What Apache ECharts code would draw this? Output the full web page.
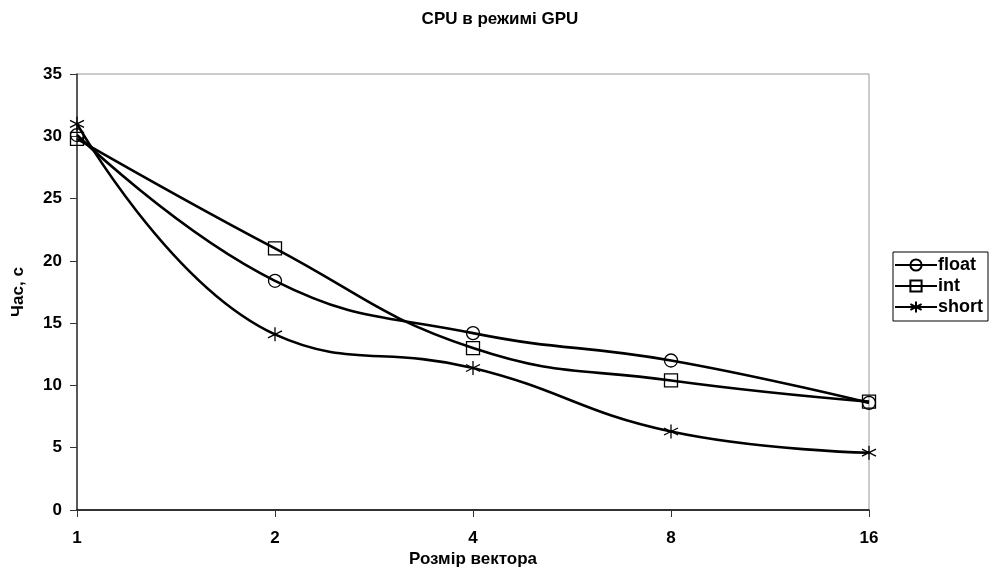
<!DOCTYPE html>
<html><head><meta charset="utf-8">
<script src="https://cdn.jsdelivr.net/npm/echarts@6/dist/echarts.min.js"></script>
<style>html,body{margin:0;padding:0;background:#fff}#c{width:990px;height:580px}</style>
</head><body><div id="c"></div>
<script>
const categories = ['1', '2', '4', '8', '16'];
const floatValues = [30.1, 18.4, 14.2, 12.0, 8.6];
const intValues = [29.8, 21.0, 13.0, 10.4, 8.7];
const shortValues = [31.0, 14.1, 11.4, 6.3, 4.6];
const yTicks = [0, 5, 10, 15, 20, 25, 30, 35];

const font = 'Liberation Sans, Arial, sans-serif';
const starPath = 'path://M5 0 L5 10 M0.7 2.5 L9.3 7.5 M0.7 7.5 L9.3 2.5';
const fs = 17;

function mk(name, data, symbol, size) {
  return {
    name, type: 'line', data, smooth: 0.45, symbol, symbolSize: size,
    showAllSymbol: true,
    lineStyle: { color: '#000', width: 2.6 },
    itemStyle: { color: 'rgba(255,255,255,0)', borderColor: '#000', borderWidth: 1.3 },
    emphasis: { disabled: true }
  };
}

const chart = echarts.init(document.getElementById('c'), null, { renderer: 'canvas' });
chart.setOption({
  animation: false,
  backgroundColor: '#fff',
  title: {
    text: 'CPU в режимі GPU', left: 495, top: 6, textAlign: 'center',
    textStyle: { fontFamily: font, fontSize: fs, fontWeight: 'bold', color: '#000' }
  },
  legend: {
    left: 893, top: 252, orient: 'vertical', itemGap: 3,
    itemWidth: 42, itemHeight: 14,
    borderColor: '#000', borderWidth: 1, padding: [4, 5, 5, 1],
    textStyle: { fontFamily: font, fontSize: 18, fontWeight: 'bold', color: '#000', padding: [0, 0, 0, -4] },
    data: ['float', 'int', 'short']
  },
  grid: { left: 77, right: 121, top: 74, bottom: 70, show: true, borderColor: '#999', borderWidth: 1 },
  xAxis: {
    type: 'category', data: categories, boundaryGap: false,
    name: 'Розмір вектора', nameLocation: 'middle', nameGap: 41, nameMoveOverlap: false,
    nameTextStyle: { fontFamily: font, fontSize: fs, fontWeight: 'bold', color: '#000' },
    axisLine: { lineStyle: { color: '#000', width: 1.5 } },
    axisTick: { show: true, length: 7, lineStyle: { color: '#333' } },
    axisLabel: { fontFamily: font, fontSize: fs, fontWeight: 'bold', color: '#000', margin: 20 },
    splitLine: { show: false }
  },
  yAxis: {
    type: 'value', min: yTicks[0], max: yTicks[yTicks.length - 1], interval: 5,
    name: 'Час, с', nameLocation: 'middle', nameGap: 50, nameRotate: 90, nameMoveOverlap: false,
    nameTextStyle: { fontFamily: font, fontSize: fs, fontWeight: 'bold', color: '#000' },
    axisLine: { show: true, lineStyle: { color: '#333', width: 1.5 } },
    axisTick: { show: true, length: 7, lineStyle: { color: '#333' } },
    axisLabel: { fontFamily: font, fontSize: fs, fontWeight: 'bold', color: '#000', margin: 15 },
    splitLine: { show: false }
  },
  series: [
    mk('float', floatValues, 'circle', 13),
    mk('int', intValues, 'rect', 13),
    mk('short', shortValues, starPath, 14)
  ]
});
</script></body></html>
